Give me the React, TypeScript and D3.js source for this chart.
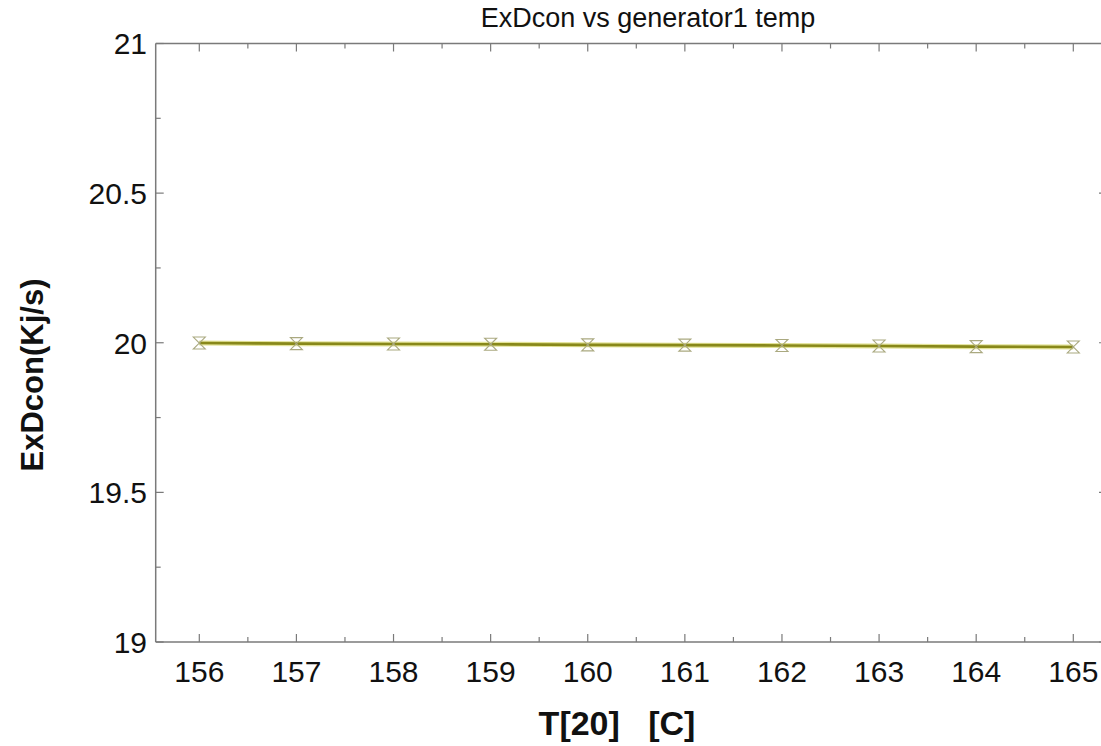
import React from "react";
import * as d3 from "d3";

const temps = [156, 157, 158, 159, 160, 161, 162, 163, 164, 165];
const exDcon = [19.999, 19.997, 19.996, 19.995, 19.993, 19.992, 19.991, 19.989, 19.987, 19.986];
const xMajor = [156, 157, 158, 159, 160, 161, 162, 163, 164, 165];
const xMinor = [156.5, 157.5, 158.5, 159.5, 160.5, 161.5, 162.5, 163.5, 164.5];
const yMajor = [19, 19.5, 20, 20.5, 21];
const yMinor = [19.25, 19.75, 20.25, 20.75];

const W = 1101;
const H = 746;
const L = 155.7;
const R = 1107;
const T = 43.5;
const B = 642;

export default function App() {
  const x = d3.scaleLinear().domain([156, 165]).range([199.3, 1073.3]);
  const y = d3.scaleLinear().domain([19, 21]).range([B, T]);
  const pts: [number, number][] = temps.map((t, i) => [x(t), y(exDcon[i])]);
  const line = d3.line()(pts) || "";
  const axisColor = "#7a7a7a";
  const font = "Arial, 'Liberation Sans', sans-serif";
  const ms = 6;
  return (
    <svg width={W} height={H} style={{ position: "absolute", left: 0, top: 0, background: "#fff" }}>
      <rect x={0} y={0} width={W} height={H} fill="#fff" />
      {/* frame */}
      <line x1={L} x2={R} y1={T} y2={T} stroke={axisColor} strokeWidth={1.5} />
      <line x1={L} x2={R} y1={B} y2={B} stroke={axisColor} strokeWidth={1.5} />
      <line x1={L} x2={L} y1={T} y2={B} stroke={axisColor} strokeWidth={1.5} />
      <line x1={R} x2={R} y1={T} y2={B} stroke={axisColor} strokeWidth={1.5} />
      {/* x ticks */}
      {xMajor.map((v) => (
        <g key={"xm" + v}>
          <line x1={x(v)} x2={x(v)} y1={B} y2={B - 8} stroke={axisColor} strokeWidth={1.2} />
          <line x1={x(v)} x2={x(v)} y1={T} y2={T + 8} stroke={axisColor} strokeWidth={1.2} />
          <text x={x(v)} y={682} textAnchor="middle" fontFamily={font} fontSize={30} fill="#111">
            {v}
          </text>
        </g>
      ))}
      {xMinor.map((v) => (
        <g key={"xn" + v}>
          <line x1={x(v)} x2={x(v)} y1={B} y2={B - 5} stroke={axisColor} strokeWidth={1.2} />
          <line x1={x(v)} x2={x(v)} y1={T} y2={T + 5} stroke={axisColor} strokeWidth={1.2} />
        </g>
      ))}
      {/* y ticks */}
      {yMajor.map((v) => (
        <g key={"ym" + v}>
          <line x1={L} x2={L + 8} y1={y(v)} y2={y(v)} stroke={axisColor} strokeWidth={1.2} />
          <line x1={R} x2={R - 8} y1={y(v)} y2={y(v)} stroke={axisColor} strokeWidth={1.2} />
          <text x={147} y={y(v)} dy="0.36em" textAnchor="end" fontFamily={font} fontSize={30} fill="#111">
            {v}
          </text>
        </g>
      ))}
      {yMinor.map((v) => (
        <g key={"yn" + v}>
          <line x1={L} x2={L + 5} y1={y(v)} y2={y(v)} stroke={axisColor} strokeWidth={1.2} />
          <line x1={R} x2={R - 5} y1={y(v)} y2={y(v)} stroke={axisColor} strokeWidth={1.2} />
        </g>
      ))}
      {/* series */}
      <path d={line} fill="none" stroke="#e2e296" strokeWidth={5} />
      <path d={line} fill="none" stroke="#88881a" strokeWidth={2.6} />
      {pts.map(([px, py], i) => (
        <path
          key={"m" + i}
          d={`M${px - ms},${py - ms}L${px + ms},${py - ms}L${px},${py}L${px + ms},${py + ms}L${px - ms},${py + ms}L${px},${py}Z`}
          fill="none"
          stroke="#aaa980"
          strokeWidth={1.1}
        />
      ))}
      {/* titles */}
      <text x={648} y={26.5} textAnchor="middle" fontFamily={font} fontSize={27} fill="#111">
        ExDcon vs generator1 temp
      </text>
      <text x={617} y={735} textAnchor="middle" fontFamily={font} fontSize={34} fontWeight="bold" fill="#111" style={{ whiteSpace: "pre" }}>
        {"T[20]   [C]"}
      </text>
      <text
        transform={`translate(43,375) rotate(-90)`}
        textAnchor="middle"
        fontFamily={font}
        fontSize={31}
        fontWeight="bold"
        fill="#111"
      >
        ExDcon(Kj/s)
      </text>
    </svg>
  );
}
